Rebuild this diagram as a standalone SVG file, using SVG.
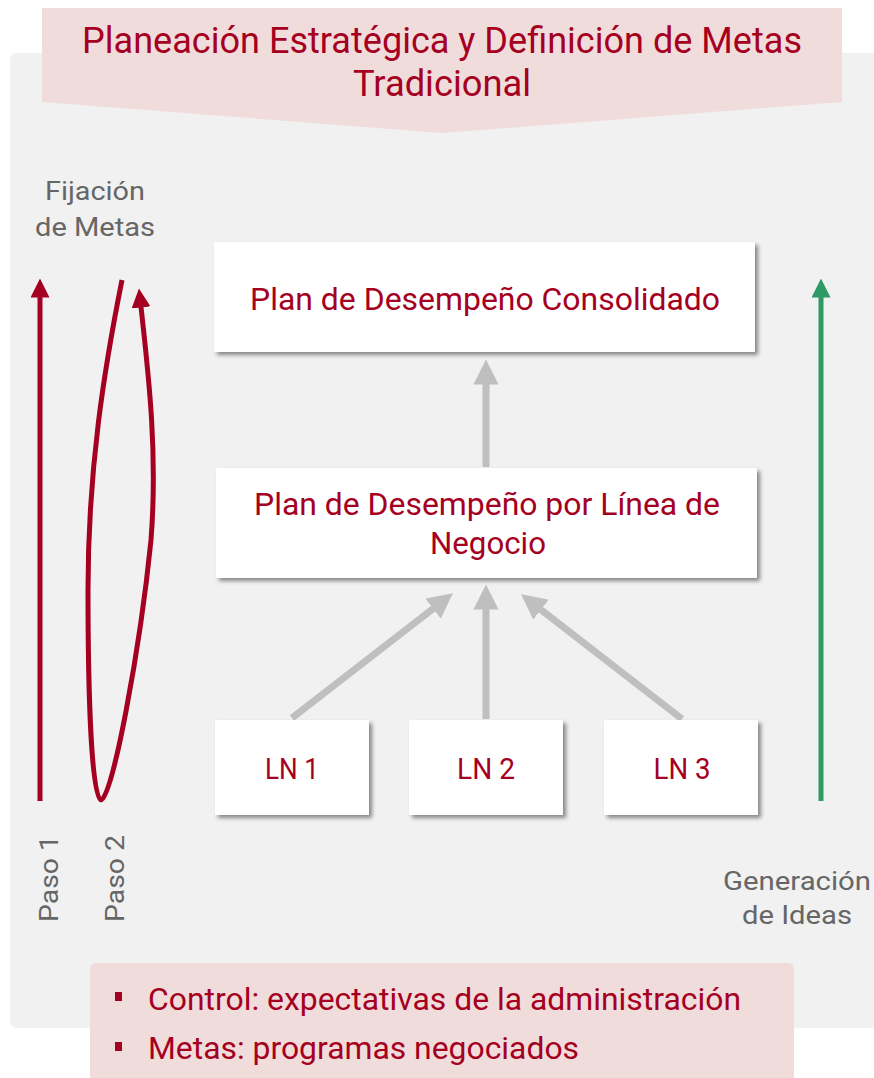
<svg xmlns="http://www.w3.org/2000/svg" width="874" height="1078" viewBox="0 0 874 1078">
<defs>
<style>
.red{fill:#a50021;font-family:Roboto,"Liberation Sans",sans-serif}
.gray{fill:#666666;font-family:Roboto,"Liberation Sans",sans-serif;font-size:26px}
.box{fill:#ffffff;filter:url(#sh)}
.conn{stroke:#bfbfbf;stroke-width:7;fill:none}
</style>
<filter id="sh" x="-10%" y="-10%" width="130%" height="130%">
<feGaussianBlur in="SourceAlpha" stdDeviation="2"/>
<feOffset dx="3" dy="3" result="b"/>
<feComponentTransfer><feFuncA type="linear" slope="0.45"/></feComponentTransfer>
<feMerge><feMergeNode/><feMergeNode in="SourceGraphic"/></feMerge>
</filter>
<marker id="ag" viewBox="0 0 10 10" refX="5" refY="5" markerWidth="3.6" markerHeight="3.6" orient="auto" markerUnits="strokeWidth">
<path d="M0,0 L10,5 L0,10 z" fill="#bfbfbf"/>
</marker>
<marker id="ar" viewBox="0 0 10 10" refX="5" refY="5" markerWidth="3.8" markerHeight="3.8" orient="auto" markerUnits="strokeWidth">
<path d="M0,0 L10,5 L0,10 z" fill="#a50021"/>
</marker>
<marker id="agr" viewBox="0 0 10 10" refX="5" refY="5" markerWidth="3.8" markerHeight="3.8" orient="auto" markerUnits="strokeWidth">
<path d="M0,0 L10,5 L0,10 z" fill="#2e9a65"/>
</marker>
</defs>
<rect x="10" y="53" width="870" height="975" rx="7" fill="#f1f1f1"/>
<g id="title">
<path d="M42,8 H842 V102 L442,133 L42,102 Z" fill="#f1dcdc"/>
<text class="red" x="442" y="53" font-size="37" text-anchor="middle" textLength="720" lengthAdjust="spacingAndGlyphs">Planeación Estratégica y Definición de Metas</text>
<text class="red" x="442" y="96" font-size="37" text-anchor="middle" textLength="178" lengthAdjust="spacingAndGlyphs">Tradicional</text>
</g>
<g id="fijacion">
<text class="gray" x="95" y="200" text-anchor="middle" textLength="100" lengthAdjust="spacingAndGlyphs">Fijación</text>
<text class="gray" x="95" y="236" text-anchor="middle" textLength="120" lengthAdjust="spacingAndGlyphs">de Metas</text>
</g>
<g id="generacion">
<text class="gray" x="797" y="890" text-anchor="middle" textLength="148" lengthAdjust="spacingAndGlyphs">Generación</text>
<text class="gray" x="797" y="924" text-anchor="middle" textLength="110" lengthAdjust="spacingAndGlyphs">de Ideas</text>
</g>
<g id="paso1">
<line x1="40" y1="801" x2="40" y2="288" stroke="#a50021" stroke-width="5" marker-end="url(#ar)"/>
<text class="gray" transform="translate(58,922) rotate(-90)" textLength="87" lengthAdjust="spacingAndGlyphs">Paso 1</text>
</g>
<g id="paso2">
<path d="M122,280 C104,370 88,470 88,590 C88,700 92,800 101,800 C112,800 140,650 151,540 C158,450 148,370 140,298" stroke="#a50021" stroke-width="5" fill="none" marker-end="url(#ar)"/>
<text class="gray" transform="translate(124,922) rotate(-90)" textLength="87" lengthAdjust="spacingAndGlyphs">Paso 2</text>
</g>
<g id="ideas-arrow">
<line x1="821" y1="801" x2="821" y2="288" stroke="#2e9a65" stroke-width="5" marker-end="url(#agr)"/>
</g>
<g id="connectors">
<line class="conn" x1="486" y1="467" x2="486" y2="372" marker-end="url(#ag)"/>
<line class="conn" x1="292" y1="718" x2="443" y2="601" marker-end="url(#ag)"/>
<line class="conn" x1="486" y1="719" x2="486" y2="597" marker-end="url(#ag)"/>
<line class="conn" x1="682" y1="719" x2="531" y2="602" marker-end="url(#ag)"/>
</g>
<g id="consolidado">
<rect class="box" x="214" y="242" width="541" height="110"/>
<text class="red" x="485" y="310" font-size="31" text-anchor="middle" textLength="470" lengthAdjust="spacingAndGlyphs">Plan de Desempeño Consolidado</text>
</g>
<g id="linea">
<rect class="box" x="216" y="468" width="541" height="110"/>
<text class="red" x="487" y="515" font-size="31" text-anchor="middle" textLength="466" lengthAdjust="spacingAndGlyphs">Plan de Desempeño por Línea de</text>
<text class="red" x="488" y="554" font-size="31" text-anchor="middle" textLength="116" lengthAdjust="spacingAndGlyphs">Negocio</text>
</g>
<g id="ln1">
<rect class="box" x="215" y="720" width="154" height="95"/>
<text class="red" x="292" y="779" font-size="29" text-anchor="middle" textLength="54" lengthAdjust="spacingAndGlyphs">LN 1</text>
</g>
<g id="ln2">
<rect class="box" x="409" y="720" width="154" height="95"/>
<text class="red" x="486" y="779" font-size="29" text-anchor="middle" textLength="58" lengthAdjust="spacingAndGlyphs">LN 2</text>
</g>
<g id="ln3">
<rect class="box" x="604" y="720" width="154" height="95"/>
<text class="red" x="682" y="779" font-size="29" text-anchor="middle" textLength="57" lengthAdjust="spacingAndGlyphs">LN 3</text>
</g>
<g id="notes">
<path d="M90,1078 V969 Q90,963 96,963 H788 Q794,963 794,969 V1078 Z" fill="#f1dcdc"/>
<rect x="115" y="992" width="7" height="9" fill="#a50021"/>
<rect x="115" y="1042" width="7" height="9" fill="#a50021"/>
<text class="red" x="148" y="1010" font-size="32" textLength="593" lengthAdjust="spacingAndGlyphs">Control: expectativas de la administración</text>
<text class="red" x="148" y="1059" font-size="32" textLength="431" lengthAdjust="spacingAndGlyphs">Metas: programas negociados</text>
</g>
</svg>
